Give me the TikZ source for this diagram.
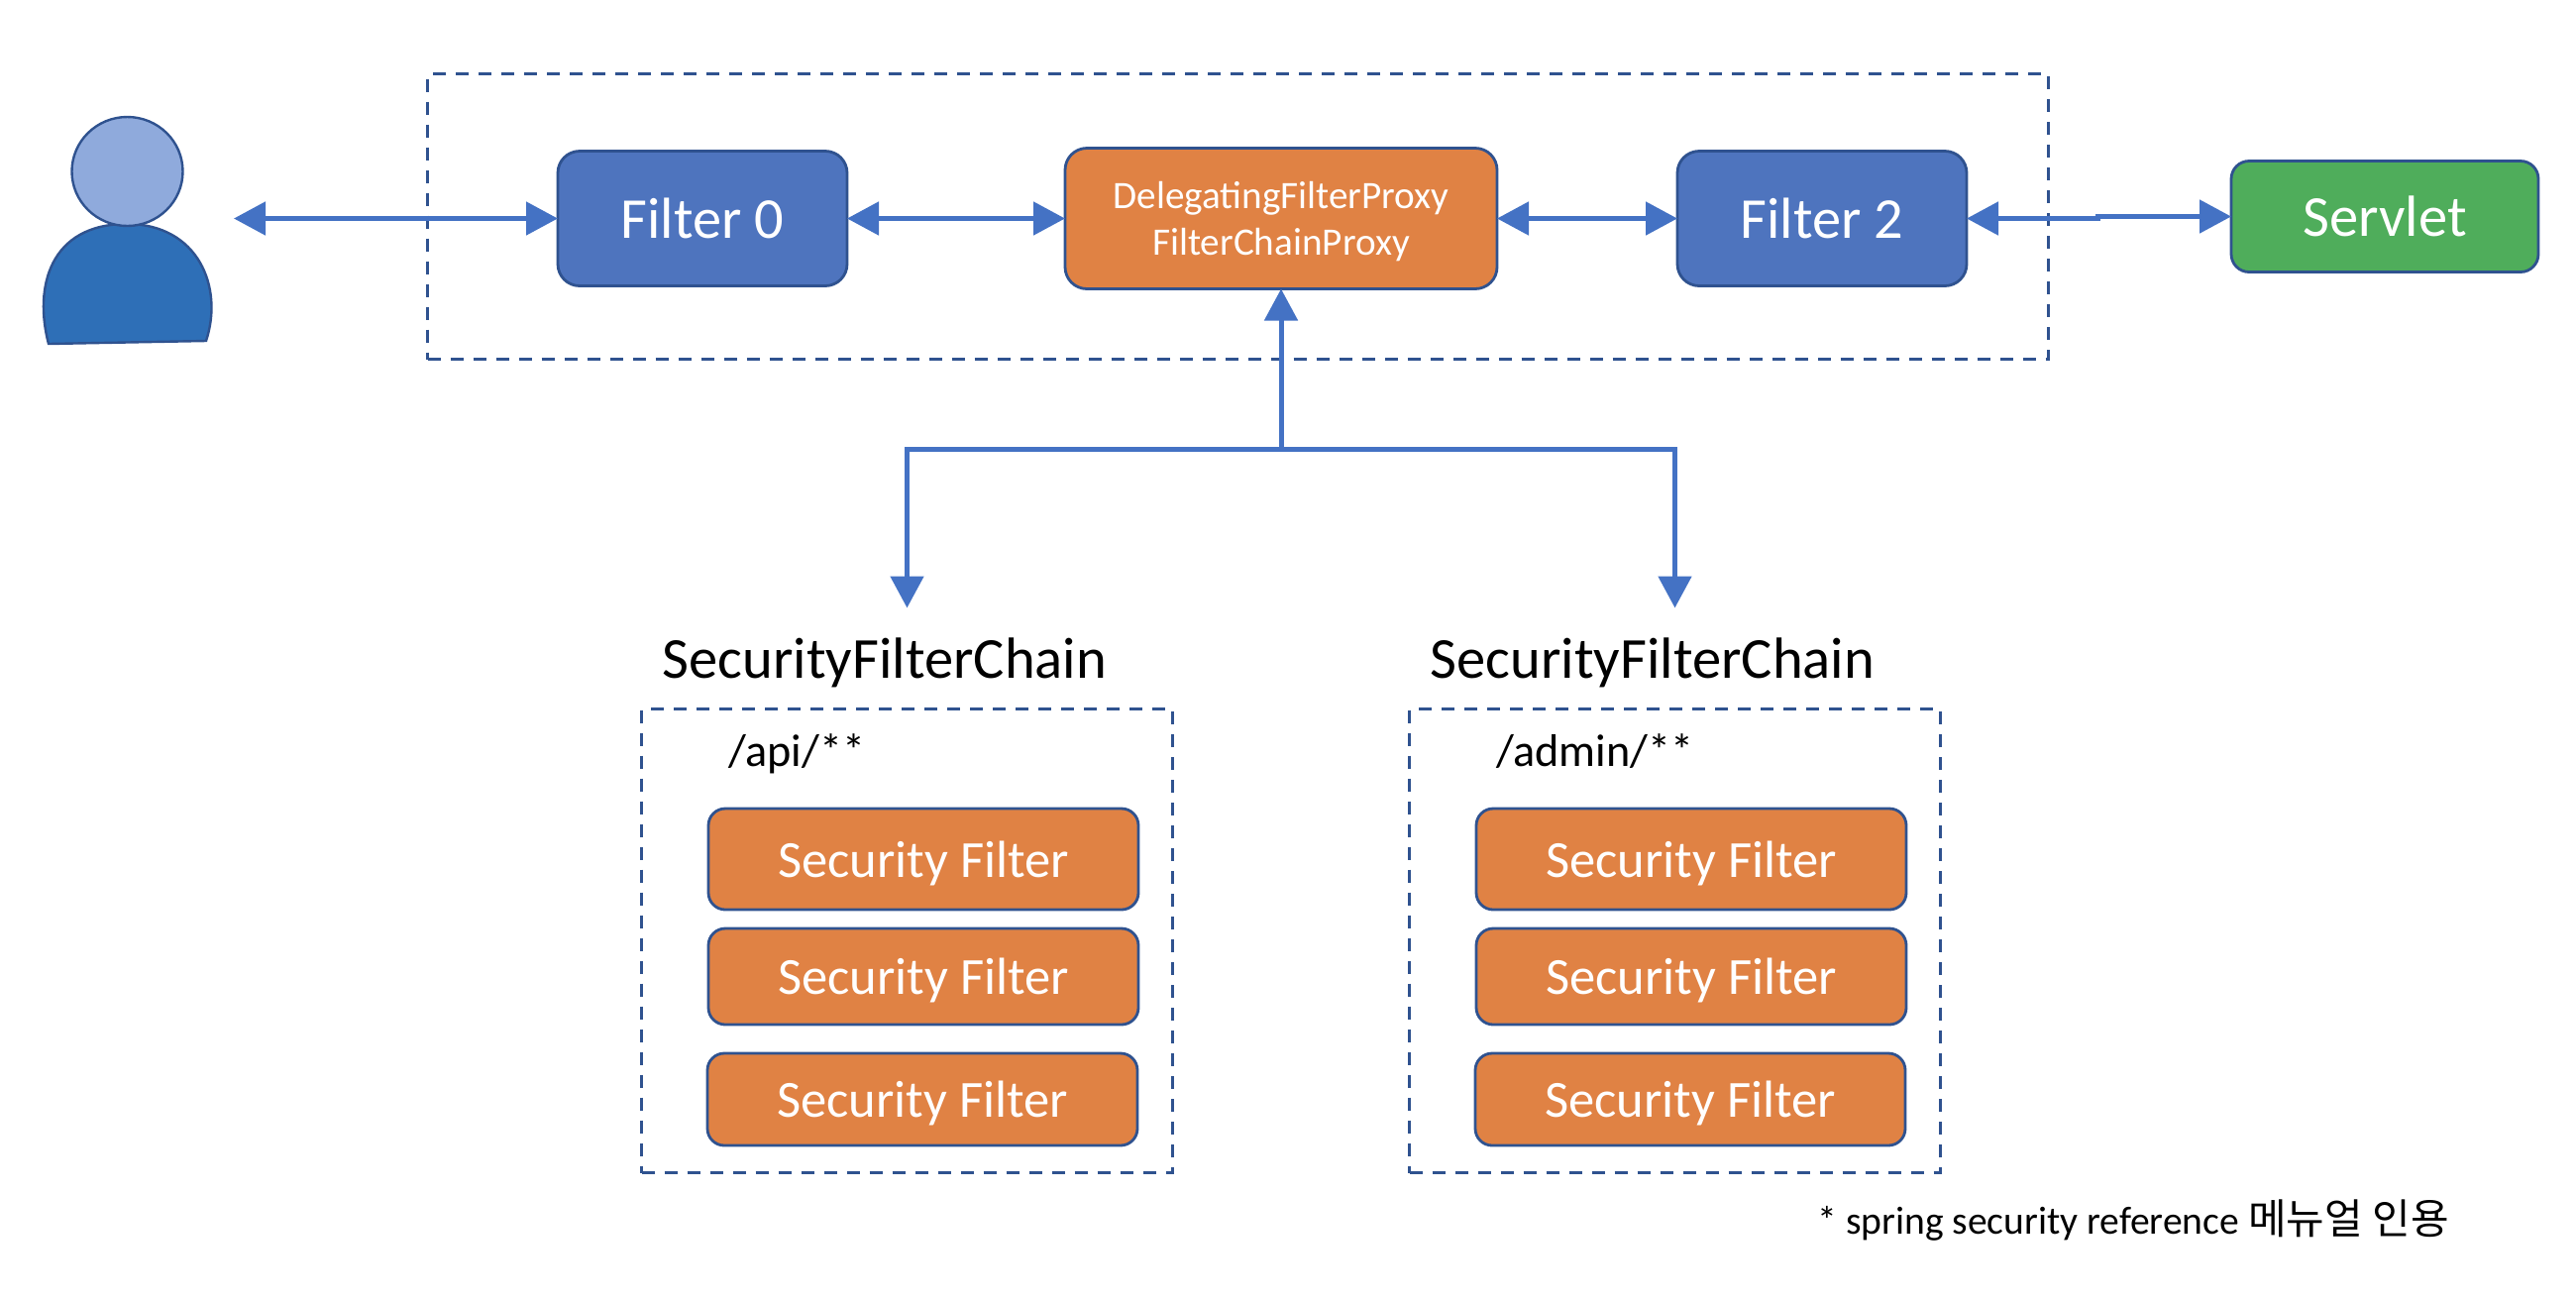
\documentclass[tikz,border=0pt]{standalone}
\usepackage{fontspec}
\setmainfont{Carlito}
\newfontfamily\cjk{Noto Sans CJK KR}
\usetikzlibrary{
arrows.meta,
positioning,
shapes.geometric
}
\definecolor{edgeblue}{HTML}{2F528F}
\definecolor{linkblue}{HTML}{4472C4}
\definecolor{filterblue}{HTML}{4E74BE}
\definecolor{filterorange}{HTML}{E08244}
\definecolor{servletgreen}{HTML}{4FAD5B}
\definecolor{headblue}{HTML}{8FAADC}
\definecolor{bodyblue}{HTML}{2E6FB7}

\begin{document}
\begin{tikzpicture}[
    x=0.5pt, y=-0.5pt,
    >={Triangle[width=16.5pt,length=16pt]},
    box/.style={draw=edgeblue, line width=1.4pt, outer sep=0pt, text=white, align=center},
    filterbox/.style={box, fill=filterblue, rounded corners=11pt,
      minimum width=146pt, minimum height=68pt, font=\fontsize{29.2}{36}\selectfont},
    proxybox/.style={box, fill=filterorange, rounded corners=11pt, text depth=0pt,
      minimum width=218pt, minimum height=71pt, font=\fontsize{19.6}{23.5}\selectfont},
    servletbox/.style={box, fill=servletgreen, rounded corners=9pt,
      minimum width=155pt, minimum height=56pt, font=\fontsize{29.3}{36}\selectfont},
    secbox/.style={box, fill=filterorange, rounded corners=8.5pt, text depth=0pt,
      minimum width=217pt, font=\fontsize{26.3}{32}\selectfont},
    group/.style={draw=edgeblue, line width=1.4pt, dash pattern=on 6.5pt off 5pt,
      outer sep=0pt},
    link/.style={draw=linkblue, line width=2.5pt}]
  \useasboundingbox (0,0) rectangle (2600,1314);
  \node[group, minimum width=818pt, minimum height=144pt] (front) at (1249.5,218.5) {};
  % user
  \draw[draw=edgeblue, fill=bodyblue, line width=1.2pt]
      (49,347) .. controls (34,290) and (50,226) .. (128,226)
      .. controls (200,226) and (226,290) .. (208,344) -- cycle;
  \node[draw=edgeblue, fill=headblue, line width=1.2pt, ellipse, inner sep=0pt,
      minimum width=56pt, minimum height=55pt, outer sep=0pt] (head) at (128.5,173) {};
  % filters
  \node[filterbox] (F0) at (709,220.5) {Filter 0};
  \node[proxybox, right=110pt of F0] (Proxy) {DelegatingFilterProxy\\FilterChainProxy};
  \node[filterbox, right=91pt of Proxy] (F2) {Filter 2};
  \node[servletbox, right=133.5pt of F2, yshift=1pt] (Servlet) {Servlet};
  \coordinate[left=163.5pt of F0.west] (User);
  \coordinate (Jog) at (2117,220);
  \coordinate[below=81pt of Proxy.south] (Fork);
  % chains
  \foreach \n/\dx/\route in {A/0/{/api/**}, B/775/{/admin/**}} {
    \node[group, minimum width=268pt, minimum height=234pt] (chain\n) at (915.5+\dx,949.5) {};
    \node[anchor=base, inner sep=0pt, font=\fontsize{29.3}{36}\selectfont] (title\n)
        at (893+\dx,684.5) {SecurityFilterChain};
    \node[anchor=base west, inner sep=0pt, font=\fontsize{23.1}{27}\selectfont] (route\n)
        at (735+\dx,773.5) {\route};
    \node[secbox, minimum height=51pt] (sec\n1) at (932+\dx,867) {Security Filter};
    \node[secbox, minimum height=48.5pt] (sec\n2) at (932+\dx,985.5) {Security Filter};
    \node[secbox, minimum height=46.5pt] (sec\n3) at (931+\dx,1109.5) {Security Filter};
    \coordinate[above=51pt of chain\n.north] (tip\n);
  }
  \node[anchor=base west, inner sep=0pt, font=\fontsize{19.8}{24}\selectfont] (note)
      at (1834,1245) {* spring security reference {\cjk\fontsize{21}{24}\selectfont 메뉴얼 인용}};
  % links
  \draw[link, <->] (User) -- (F0.west);
  \draw[link, <->] (F0) -- (Proxy);
  \draw[link, <->] (Proxy) -- (F2);
  \draw[link, <->] (F2.east) -| (Jog) |- (Servlet.west);
  \draw[link, ->] (Fork) -- (Proxy.south);
  \draw[link, ->] (Fork) -| (tipA);
  \draw[link, ->] (Fork) -| (tipB);
\end{tikzpicture}
\end{document}
